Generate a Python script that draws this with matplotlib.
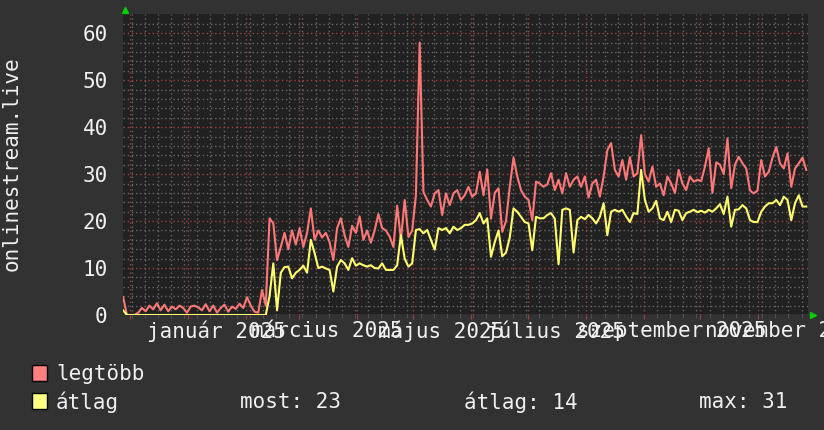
import numpy as np
import pandas as pd
import matplotlib
matplotlib.use('Agg')
import matplotlib.pyplot as plt
import matplotlib.dates as mdates
from matplotlib.patches import Rectangle

# napi adatok, 2 naponta leolvasva (2024-11-27 -> 2025-11-27)
start = '2024-11-27 12:00'

legtobb = [3.8, 0, 0, 0, 0.5, 1.5, 0.8, 2.0, 1.2, 2.5,
           1.0, 2.2, 0.8, 1.8, 1.2, 2.0, 1.5, 0.5, 1.8, 2.0,
           1.6, 1.0, 2.3, 0.8, 2.0, 0.5, 1.5, 2.2, 0.7, 1.8,
           1.3, 2.4, 1.5, 3.8, 2.0, 0.7, 0.5, 5.3, 2.0, 20.6,
           19.5, 11.7, 14.5, 17.5, 14.0, 18.0, 15.0, 18.5, 14.5, 17.5,
           22.7, 16.0, 18.0, 16.5, 17.5, 15.5, 11.7, 18.5, 20.6, 17.0,
           14.5, 19.0, 17.5, 21.0, 16.0, 18.0, 15.4, 18.0, 21.5, 18.5,
           18.0, 16.7, 14.5, 23.3, 16.0, 24.5, 16.6, 18.0, 25.5, 58.0,
           26.2, 24.5, 23.1, 25.9, 26.6, 21.3, 25.9, 23.4, 25.9, 26.6,
           24.5, 25.5, 27.3, 25.2, 25.9, 30.5, 25.5, 31.0, 20.5, 26.0,
           27.0, 17.7, 20.0, 27.3, 33.5, 29.5, 26.6, 25.2, 24.5, 20.2,
           28.4, 28.0, 27.3, 27.8, 30.2, 26.6, 28.8, 25.9, 30.2, 27.3,
           28.8, 29.5, 27.3, 29.5, 25.0, 28.0, 28.8, 25.2, 29.5, 35.1,
           36.6, 30.9, 29.5, 33.0, 28.8, 33.6, 29.5, 30.2, 38.3, 30.0,
           28.4, 31.6, 27.3, 28.0, 25.5, 29.5, 28.0, 26.0, 30.9, 28.0,
           26.6, 29.5, 28.4, 28.8, 28.5, 31.6, 35.5, 26.0, 32.5, 32.0,
           30.0, 37.6, 27.0, 32.0, 33.7, 32.3, 31.2, 26.5, 25.9, 26.5,
           33.0, 29.5, 30.5, 33.5, 35.8, 32.3, 31.2, 34.4, 27.3, 31.2,
           32.3, 33.5, 30.9]

atlag = [1.0, 0, 0, 0, 0, 0, 0, 0, 0, 0,
         0, 0, 0, 0, 0, 0, 0, 0, 0, 0,
         0, 0, 0, 0, 0, 0, 0, 0, 0, 0,
         0, 0, 0, 0, 0, 0, 0, 0, 0, 4.0,
         11.0, 1.0, 9.0, 10.2, 10.3, 7.8, 9.0, 9.6, 10.5, 9.0,
         16.0, 13.2, 10.0, 10.3, 9.9, 9.6, 5.0, 10.3, 11.7, 11.0,
         9.6, 12.1, 10.5, 11.0, 10.6, 10.3, 10.6, 10.0, 9.9, 11.0,
         9.6, 9.6, 9.6, 10.6, 17.0, 12.0, 10.3, 11.0, 18.1, 18.3,
         17.4, 18.1, 16.0, 13.9, 18.5, 18.1, 18.5, 17.4, 18.8, 18.1,
         18.5, 19.2, 19.2, 19.5, 20.2, 21.7, 19.5, 20.6, 12.4, 15.5,
         18.0, 12.5, 13.3, 16.5, 22.7, 22.0, 20.9, 19.8, 19.5, 13.8,
         20.9, 20.6, 20.6, 21.3, 21.7, 20.5, 10.8, 22.4, 22.7, 22.4,
         13.3, 20.2, 20.9, 20.4, 21.3, 20.6, 19.5, 20.9, 23.8, 17.0,
         22.0, 22.4, 22.0, 22.4, 21.0, 19.8, 21.7, 21.5, 30.9, 24.5,
         22.0, 22.7, 24.3, 20.6, 20.2, 22.0, 19.8, 22.4, 22.2, 20.2,
         21.7, 22.0, 22.4, 21.9, 22.2, 21.8, 22.4, 22.0, 22.7, 23.6,
         21.5, 25.2, 18.8, 22.4, 22.5, 23.4, 22.7, 20.2, 19.8, 19.8,
         22.0, 23.1, 23.8, 23.8, 24.5, 23.4, 25.2, 24.5, 20.2, 23.8,
         25.5, 23.1, 23.1]

dates = pd.date_range(start, periods=len(legtobb), freq='2D')

honapok = ['2025-01-16', '2025-03-16', '2025-05-16', '2025-07-16', '2025-09-16', '2025-11-16']
honap_nevek = ['január 2025', 'március 2025', 'május 2025', 'július 2025',
               'szeptember 2025', 'november 2025']

bg = '#323232'
plot_bg = '#212121'
red = '#FF7878'
yellow = '#FFFF70'
txt = '#F0F0F0'
font = 'DejaVu Sans Mono'
fs = 15

fig = plt.figure(figsize=(8.24, 4.30), dpi=100, facecolor=bg)
ax = fig.add_axes([123/824, 1 - 315/430, 685/824, 301/430])
ax.set_facecolor(plot_bg)

ax.plot(dates, legtobb, color=red, lw=1.5)
ax.plot(dates, atlag, color=yellow, lw=1.5)

ax.set_xlim(pd.Timestamp('2024-11-27 10:00'), pd.Timestamp('2025-11-27 10:00'))
ax.set_ylim(0, 64.1)

# racsok
ax.xaxis.set_major_locator(mdates.MonthLocator())
ax.xaxis.set_minor_locator(mdates.WeekdayLocator(byweekday=mdates.MO))
ax.set_yticks(np.arange(0, 61, 10))
ax.set_yticks(np.arange(0, 64, 2), minor=True)
ax.grid(which='minor', color='#666666', linestyle=(0, (1, 2)), lw=1.0)
ax.grid(which='major', color='#9a4040', linestyle=(0, (1, 2)), lw=1.0)
ax.set_axisbelow(True)

ax.tick_params(axis='x', which='major', length=3, color='#a04040', labelbottom=False)
ax.tick_params(axis='x', which='minor', length=2, color='#5a5a5a')
ax.tick_params(axis='y', which='both', length=0, pad=11, labelcolor=txt, labelsize=fs)
for lab in ax.get_yticklabels():
    lab.set_family(font)

for s in ax.spines.values():
    s.set_visible(False)
ax.axhline(0, color='#505050', lw=1, zorder=1)

for d, name in zip(honapok, honap_nevek):
    ax.text(pd.Timestamp(d), -0.053, name, transform=ax.get_xaxis_transform(),
            ha='center', va='center', color=txt, fontsize=fs, family=font, clip_on=False)

# zold nyilak
ax.plot([0.003], [1.013], marker='^', color='#00CC00', ms=5, transform=ax.transAxes, clip_on=False)
ax.plot([1.007], [0.0], marker='>', color='#00CC00', ms=5, transform=ax.transAxes, clip_on=False)

fig.text(12/824, 1 - 164/430, 'onlinestream.live', rotation=90, ha='center', va='center',
         color=txt, fontsize=fs, family=font)

# jelmagyarazat
fig.patches.append(Rectangle((32/824, 1 - 381/430), 15/824, 16/430, transform=fig.transFigure,
                             facecolor='#FF8080', edgecolor='black', lw=1))
fig.patches.append(Rectangle((32/824, 1 - 409/430), 15/824, 16/430, transform=fig.transFigure,
                             facecolor='#FFFF80', edgecolor='black', lw=1))
fig.text(56/824, 1 - 374/430, 'legtöbb', va='center', color=txt, fontsize=fs, family=font)
fig.text(56/824, 1 - 402/430, 'átlag', va='center', color=txt, fontsize=fs, family=font)
fig.text(240/824, 1 - 402/430, 'most: 23', va='center', color=txt, fontsize=fs, family=font)
fig.text(464/824, 1 - 402/430, 'átlag: 14', va='center', color=txt, fontsize=fs, family=font)
fig.text(699/824, 1 - 402/430, 'max: 31', va='center', color=txt, fontsize=fs, family=font)

fig.savefig('out.png', dpi=100, facecolor=bg)
